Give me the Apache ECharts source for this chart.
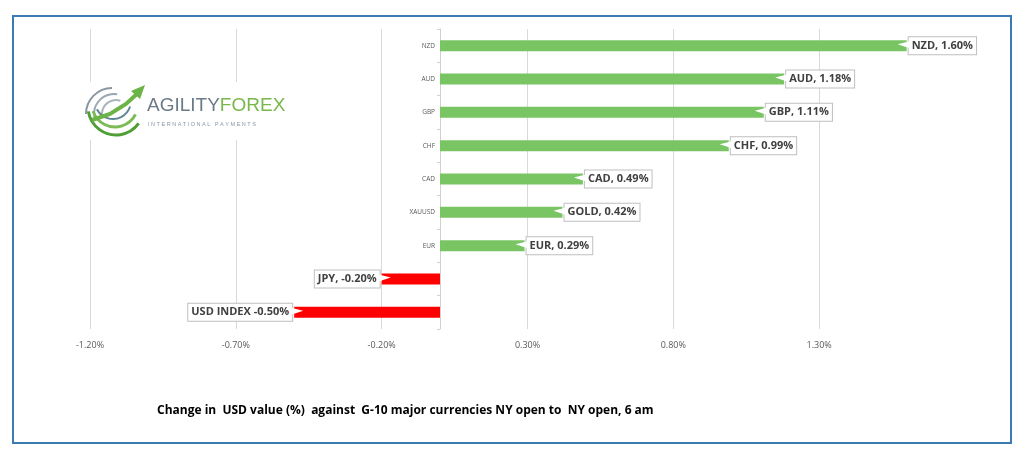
<!DOCTYPE html>
<html>
<head>
<meta charset="utf-8">
<script src="https://cdn.jsdelivr.net/npm/echarts@6/dist/echarts.min.js"></script>
<style>
html,body{margin:0;padding:0;background:#fff;}
#chart{width:1024px;height:462px;}
</style>
</head>
<body>
<div id="chart"></div>
<script>
const categories = ['NZD', 'AUD', 'GBP', 'CHF', 'CAD', 'XAUUSD', 'EUR', 'JPY', 'USD INDEX'];
const values = [1.60, 1.18, 1.11, 0.99, 0.49, 0.42, 0.29, -0.20, -0.50];
const labelPrefixes = ['NZD, ', 'AUD, ', 'GBP, ', 'CHF, ', 'CAD, ', 'GOLD, ', 'EUR, ', 'JPY, ', 'USD INDEX '];
const tickValues = [-1.2, -0.7, -0.2, 0.3, 0.8, 1.3];
const titleText = 'Change in  USD value (%)  against  G-10 major currencies NY open to  NY open, 6 am';

const GREEN = '#7ac563';
const RED = '#ff0000';
const X_MIN = -1.2, X_MAX = 1.8;
const GRID_LEFT = 90, GRID_RIGHT = 59;

const barData = values.map((v, i) => ({
  value: v,
  itemStyle: { color: v >= 0 ? GREEN : RED },
  label: {
    position: v >= 0 ? 'right' : 'left',
    formatter: labelPrefixes[i] + v.toFixed(2) + '%'
  }
}));

const wedgeData = values.map((v, i) => ({
  value: [v, categories[i]],
  symbol: v >= 0 ? 'path://M0,3 L12,0 L12,7 Z' : 'path://M12,3 L0,0 L0,7 Z',
  symbolOffset: v >= 0 ? [-3, -1] : [3, -1]
}));

const el = document.getElementById('chart');
const chart = echarts.init(el, null, { renderer: 'canvas' });
const plotWidth = 1024 - GRID_LEFT - GRID_RIGHT;
const zeroOffset = -plotWidth * (0 - X_MIN) / (X_MAX - X_MIN);

const option = {
  backgroundColor: '#ffffff',
  animation: false,
  grid: { left: GRID_LEFT, right: GRID_RIGHT, top: 29, bottom: 133, containLabel: false },
  xAxis: {
    type: 'value',
    min: X_MIN,
    max: X_MAX,
    interval: 0.1,
    axisLine: { show: false },
    axisTick: { show: false, customValues: tickValues },
    axisLabel: {
      customValues: tickValues,
      formatter: v => v.toFixed(2) + '%',
      color: '#595959',
      fontSize: 9,
      fontFamily: 'Open Sans',
      margin: 12
    },
    splitLine: { show: true, lineStyle: { color: '#d9d9d9', width: 1 } }
  },
  yAxis: {
    type: 'category',
    data: categories,
    inverse: true,
    offset: zeroOffset,
    axisLine: { show: true, onZero: false, lineStyle: { color: '#d0d0d0' } },
    axisTick: { show: true, length: 3, lineStyle: { color: '#d0d0d0' } },
    axisLabel: { color: '#595959', fontSize: 6.5, fontFamily: 'Open Sans', margin: 5 },
    splitLine: { show: false }
  },
  series: [
    {
      type: 'bar',
      data: barData,
      barWidth: 11,
      z: 3,
      label: {
        show: true,
        distance: 2,
        color: '#404040',
        fontWeight: 'bold',
        fontSize: 11,
        fontFamily: 'Open Sans',
        backgroundColor: '#ffffff',
        borderColor: '#bfbfbf',
        borderWidth: 1,
        padding: [3, 3, 3, 3]
      }
    },
    {
      type: 'scatter',
      data: wedgeData,
      symbolSize: [12, 7],
      itemStyle: { color: '#ffffff', opacity: 1 },
      z: 4,
      silent: true
    }
  ],
  graphic: [
    {
      type: 'rect',
      shape: { x: 13, y: 16, width: 998, height: 427 },
      style: { fill: 'none', stroke: '#3b7bb5', lineWidth: 2 },
      z: 10
    },
    {
      type: 'text',
      left: 157,
      top: 405,
      style: { text: titleText, font: 'bold 12px "Open Sans"', fill: '#000000' }
    },
    // logo
    { type: 'rect', shape: { x: 80, y: 82, width: 210, height: 58 }, style: { fill: '#ffffff' }, z: 5 },
    { type: 'arc', shape: { cx: 112, cy: 114, r: 26, startAngle: Math.PI * 1.0, endAngle: Math.PI * 1.5 }, style: { stroke: '#8a97a3', lineWidth: 2, fill: 'none' }, z: 6 },
    { type: 'arc', shape: { cx: 114, cy: 114, r: 20, startAngle: Math.PI * 0.95, endAngle: Math.PI * 1.55 }, style: { stroke: '#9aa7b2', lineWidth: 2, fill: 'none' }, z: 6 },
    { type: 'arc', shape: { cx: 116, cy: 114, r: 14, startAngle: Math.PI * 0.9, endAngle: Math.PI * 1.6 }, style: { stroke: '#aab5bf', lineWidth: 2, fill: 'none' }, z: 6 },
    { type: 'arc', shape: { cx: 116, cy: 107, r: 28, startAngle: Math.PI * 0.2, endAngle: Math.PI * 0.95 }, style: { stroke: '#4f9f36', lineWidth: 3, fill: 'none' }, z: 6 },
    { type: 'arc', shape: { cx: 115, cy: 104, r: 23, startAngle: Math.PI * 0.15, endAngle: Math.PI * 0.9 }, style: { stroke: '#7dbb55', lineWidth: 3, fill: 'none' }, z: 6 },
    { type: 'arc', shape: { cx: 113, cy: 101, r: 18, startAngle: Math.PI * 0.1, endAngle: Math.PI * 0.85 }, style: { stroke: '#5f8597', lineWidth: 2, fill: 'none' }, z: 6 },
    { type: 'polyline', shape: { points: [[92, 120], [110, 114], [126, 104], [138, 93]] }, style: { stroke: '#6cb446', lineWidth: 4, fill: 'none' }, z: 7 },
    { type: 'polygon', shape: { points: [[131, 91], [145, 85], [140, 99]] }, style: { fill: '#6cb446' }, z: 7 },
    {
      type: 'text', left: 147, top: 96, z: 8,
      style: {
        text: '{a|AGILITY}{b|FOREX}',
        rich: {
          a: { fontSize: 19, fontFamily: 'Liberation Sans', fill: '#6b7a86', color: '#6b7a86' },
          b: { fontSize: 19, fontFamily: 'Liberation Sans', fill: '#78b84a', color: '#78b84a' }
        }
      }
    },
    {
      type: 'text', left: 148, top: 121, z: 8,
      style: { text: 'I N T E R N A T I O N A L   P A Y M E N T S', font: '5.5px "Liberation Sans"', fill: '#8a97a3' }
    }
  ]
};
chart.setOption(option);
</script>
</body>
</html>
